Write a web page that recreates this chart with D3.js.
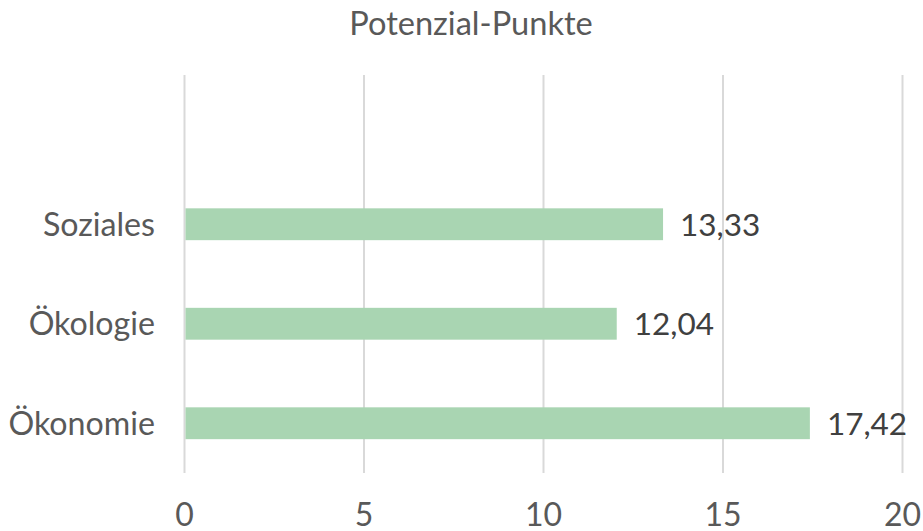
<!DOCTYPE html>
<html><head><meta charset="utf-8">
<script src="https://cdn.jsdelivr.net/npm/d3@7"></script>
<style>body{margin:0;background:#fff}svg{display:block}</style>
</head><body>
<svg id="chart" width="923" height="531"></svg>
<script>
const title = "Potenzial-Punkte";
const categories = ["", "Soziales", "Ökologie", "Ökonomie"];
const values = [null, 13.33, 12.04, 17.42];
const tickValues = [0, 5, 10, 15, 20];

const svg = d3.select("#chart");
const font = "Lato, 'Open Sans', sans-serif";
const x = d3.scaleLinear().domain([0, 20]).range([184.5, 902.5]);
const y = d3.scaleBand().domain(categories).range([75, 473]).paddingInner(0.68).paddingOuter(0.34);

// gridlines
svg.append("g").selectAll("line").data(tickValues).join("line")
  .attr("x1", d => x(d)).attr("x2", d => x(d))
  .attr("y1", 75).attr("y2", 473)
  .attr("stroke", "#d9d9d9").attr("stroke-width", 2);

const data = categories.map((c, i) => ({c, v: values[i]})).filter(d => d.v != null);

svg.append("g").selectAll("rect").data(data).join("rect")
  .attr("x", x(0) + 1).attr("y", d => y(d.c))
  .attr("width", d => x(d.v) - x(0) - 1).attr("height", y.bandwidth())
  .attr("fill", "#a9d5b2");

// data labels
svg.append("g").selectAll("text").data(data).join("text")
  .attr("x", d => x(d.v) + 17).attr("y", d => y(d.c) + y.bandwidth() / 2)
  .attr("dy", "0.36em")
  .attr("font-family", font).attr("font-size", 31.5).attr("fill", "#404040")
  .text(d => d3.format(".2f")(d.v).replace(".", ","));

// category labels
svg.append("g").selectAll("text").data(categories.filter(c => c)).join("text")
  .attr("x", 155).attr("y", d => y(d) + y.bandwidth() / 2)
  .attr("dy", "0.36em").attr("text-anchor", "end")
  .attr("font-family", font).attr("font-size", 32.2).attr("fill", "#595959")
  .text(d => d);

// x tick labels
svg.append("g").selectAll("text").data(tickValues).join("text")
  .attr("x", d => x(d)).attr("y", 526).attr("text-anchor", "middle")
  .attr("font-family", font).attr("font-size", 32).attr("fill", "#595959")
  .text(d => d);

// title
svg.append("text").attr("x", 471).attr("y", 35).attr("text-anchor", "middle")
  .attr("font-family", font).attr("font-size", 32.6).attr("fill", "#595959")
  .text(title);
</script>
</body></html>
